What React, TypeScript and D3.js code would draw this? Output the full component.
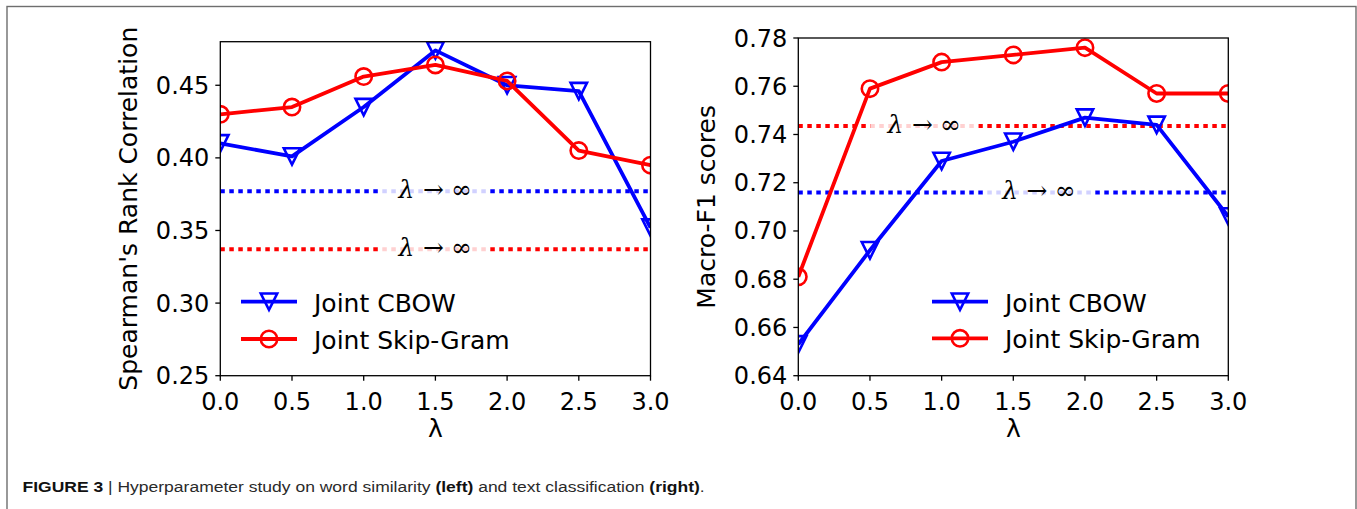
import React from 'react';
import * as d3 from 'd3';

// values
const lambdas = [0, 0.5, 1.0, 1.5, 2.0, 2.5, 3.0];
const xTicks = [0, 0.5, 1.0, 1.5, 2.0, 2.5, 3.0];

const simCbow = [0.410, 0.401, 0.435, 0.474, 0.450, 0.446, 0.352];
const simSkip = [0.430, 0.435, 0.456, 0.464, 0.453, 0.405, 0.395];
const simInf = [0.377, 0.337]; // CBOW, Skip-Gram
const simTicks = [0.25, 0.30, 0.35, 0.40, 0.45];

const clsCbow = [0.653, 0.692, 0.729, 0.737, 0.747, 0.744, 0.706];
const clsSkip = [0.681, 0.759, 0.770, 0.773, 0.776, 0.757, 0.757];
const clsInf = [0.716, 0.7435];
const clsTicks = [0.64, 0.66, 0.68, 0.70, 0.72, 0.74, 0.76, 0.78];

const seriesNames = ['Joint CBOW', 'Joint Skip-Gram'];
const colors = ['#0000ff', '#ff0000'];

const SANS = 'DejaVu Sans';
const SERIF = 'DejaVu Serif';

const tri = (cx, cy, s) => `M${cx - s},${cy - s}L${cx + s},${cy - s}L${cx},${cy + s}Z`;

const Marker = ({ kind, cx, cy, color }) =>
  kind === 'v' ? (
    <path d={tri(cx, cy, 8.2)} fill="none" stroke={color} strokeWidth={2.6} strokeLinejoin="miter" />
  ) : (
    <circle cx={cx} cy={cy} r={8.2} fill="none" stroke={color} strokeWidth={2.6} />
  );

const InfLabel = ({ cx, cy }) => (
  <g fontFamily={SERIF} fontSize={25} fill="#000">
    <rect x={cx - 54} y={cy - 14} width={108} height={28} fill="#fff" opacity={0.82} />
    <text x={cx - 29} y={cy + 7} textAnchor="middle" fontStyle="italic">λ</text>
    <text x={cx - 2} y={cy + 7} textAnchor="middle">→</text>
    <text x={cx + 26} y={cy + 7} textAnchor="middle">∞</text>
  </g>
);

const Panel = ({ id, left, right, top, bottom, yDomain, yTicks, series, inf, infX, ylabel, ylabelX, legendX, legendY }) => {
  const x = d3.scaleLinear().domain([0, 3]).range([left, right]);
  const y = d3.scaleLinear().domain(yDomain).range([bottom, top]);
  const line = d3.line<number>().x((d, i) => x(lambdas[i])).y(d => y(d));
  const kinds = ['v', 'o'];
  const cx = (left + right) / 2;
  const cy = (top + bottom) / 2;

  return (
    <g>
      <defs>
        <clipPath id={id}>
          <rect x={left} y={top} width={right - left} height={bottom - top} />
        </clipPath>
      </defs>

      <g clipPath={`url(#${id})`}>
        {inf.map((v, k) => (
          <line key={k} x1={left} x2={right} y1={y(v)} y2={y(v)} stroke={colors[k]}
            strokeWidth={4} strokeDasharray="4.5 4.5" />
        ))}
        {series.map((s, k) => (
          <g key={k}>
            <path d={line(s)} fill="none" stroke={colors[k]} strokeWidth={3.8} strokeLinejoin="round" />
            {s.map((v, i) => (
              <Marker key={i} kind={kinds[k]} cx={x(lambdas[i])} cy={y(v)} color={colors[k]} />
            ))}
          </g>
        ))}
        {inf.map((v, k) => (
          <InfLabel key={k} cx={x(infX[k])} cy={y(v)} />
        ))}
      </g>

      <rect x={left} y={top} width={right - left} height={bottom - top} fill="none" stroke="#000" strokeWidth={1.3} />

      {xTicks.map(t => (
        <g key={t}>
          <line x1={x(t)} x2={x(t)} y1={bottom} y2={bottom + 5} stroke="#000" strokeWidth={1.3} />
          <text x={x(t)} y={bottom + 34} textAnchor="middle" fontFamily={SANS} fontSize={24}>
            {d3.format('.1f')(t)}
          </text>
        </g>
      ))}
      {yTicks.map(t => (
        <g key={t}>
          <line x1={left - 5} x2={left} y1={y(t)} y2={y(t)} stroke="#000" strokeWidth={1.3} />
          <text x={left - 11} y={y(t) + 8.5} textAnchor="end" fontFamily={SANS} fontSize={24}>
            {d3.format('.2f')(t)}
          </text>
        </g>
      ))}

      <text x={cx} y={bottom + 61} textAnchor="middle" fontFamily={SANS} fontSize={25}>λ</text>
      <text transform={`translate(${ylabelX},${cy}) rotate(-90)`} textAnchor="middle" fontFamily={SANS} fontSize={25}>
        {ylabel}
      </text>

      {seriesNames.map((name, k) => {
        const ly = legendY[k];
        return (
          <g key={name}>
            <line x1={legendX} x2={legendX + 56} y1={ly} y2={ly} stroke={colors[k]} strokeWidth={3.8} />
            <Marker kind={kinds[k]} cx={legendX + 28} cy={ly} color={colors[k]} />
            <text x={legendX + 73} y={ly + 10} fontFamily={SANS} fontSize={25}>{name}</text>
          </g>
        );
      })}
    </g>
  );
};

export default function App() {
  return (
    <svg width={1357} height={509} style={{ position: 'absolute', left: 0, top: 0, background: '#fff' }}>
      <rect x={0} y={0} width={1357} height={509} fill="#fff" />
      <rect x={7} y={6.5} width={1349} height={530} fill="none" stroke="#6e6e6e" strokeWidth={1.4} />

      <Panel id="clipL" left={220.3} right={650.5} top={41.7} bottom={375.7}
        yDomain={[0.25, 0.48]} yTicks={simTicks} series={[simCbow, simSkip]}
        inf={simInf} infX={[1.5, 1.5]} ylabel="Spearman's Rank Correlation" ylabelX={137}
        legendX={241} legendY={[301.7, 339]} />

      <Panel id="clipR" left={798.3} right={1228.3} top={38} bottom={375.7}
        yDomain={[0.64, 0.78]} yTicks={clsTicks} series={[clsCbow, clsSkip]}
        inf={clsInf} infX={[1.68, 0.88]} ylabel="Macro-F1 scores" ylabelX={715}
        legendX={932} legendY={[301.7, 338.3]} />

      <text transform="translate(22.5,492) scale(1,0.84)" fontFamily="Liberation Sans" fontSize={17.5} fill="#2a2a2a">
        <tspan fontWeight="bold" fill="#111">FIGURE 3</tspan>
        <tspan> | Hyperparameter study on word similarity </tspan>
        <tspan fontWeight="bold" fill="#111">(left)</tspan>
        <tspan> and text classification </tspan>
        <tspan fontWeight="bold" fill="#111">(right)</tspan>
        <tspan>.</tspan>
      </text>
    </svg>
  );
}
